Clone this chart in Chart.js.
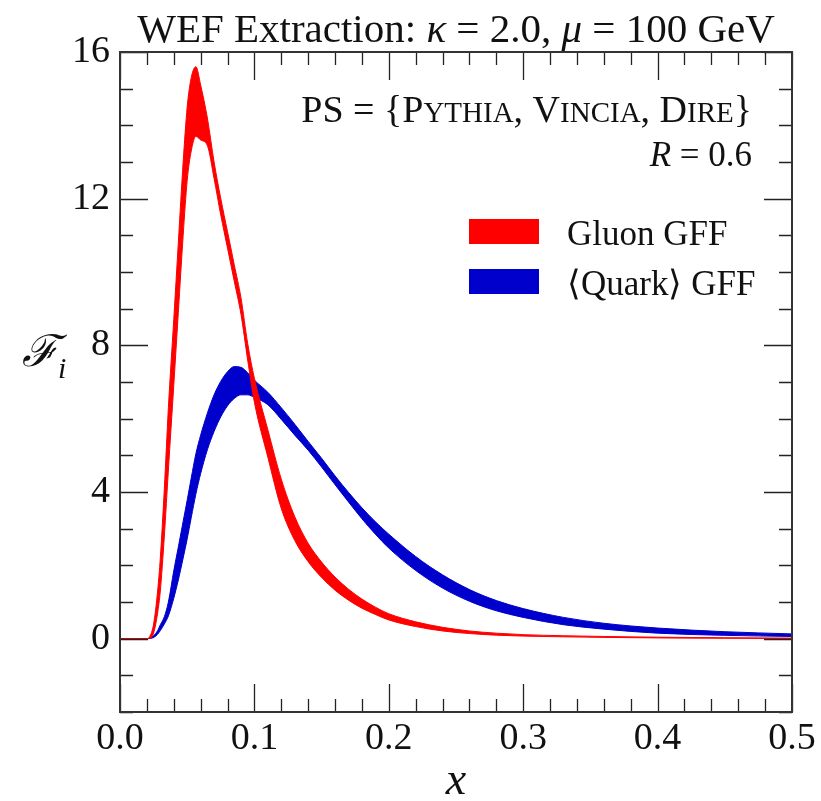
<!DOCTYPE html>
<html><head><meta charset="utf-8">
<script src="https://cdn.jsdelivr.net/npm/chart.js@4.4.1/dist/chart.umd.min.js"></script>
<style>html,body{margin:0;padding:0;background:#fff}</style>
</head><body>
<canvas id="c" width="821" height="801"></canvas>
<script>
// ---------- data ----------
const xValues = [0, 0.01, 0.02, 0.022, 0.025, 0.028, 0.03, 0.033, 0.036, 0.04, 0.0434, 0.047, 0.05, 0.053, 0.0565, 0.06, 0.065, 0.07, 0.075, 0.08, 0.085, 0.09, 0.095, 0.1, 0.11, 0.12, 0.13, 0.14, 0.15, 0.16, 0.17, 0.18, 0.19, 0.2, 0.22, 0.24, 0.26, 0.28, 0.3, 0.33, 0.36, 0.4, 0.45, 0.5];
const gluonUpper = [0, 0, 0, 0.05, 0.4, 1.3, 2.2, 4.1, 6.3, 8.7, 10.8, 13.0, 14.5, 15.3, 15.6, 15.1, 14.2, 13.0, 12.0, 11.1, 10.2, 9.3, 8.05, 7.1, 5.7, 4.35, 3.33, 2.6, 2.09, 1.68, 1.35, 1.08, 0.86, 0.68, 0.46, 0.31, 0.21, 0.15, 0.11, 0.08, 0.06, 0.04, 0.025, 0.015];
const gluonLower = [0, 0, 0, 0.01, 0.15, 0.7, 1.3, 2.8, 4.6, 6.9, 8.9, 11.0, 12.5, 13.3, 13.7, 13.6, 13.45, 12.55, 11.55, 10.65, 9.75, 8.85, 7.6, 6.45, 4.95, 3.55, 2.68, 2.1, 1.67, 1.32, 1.05, 0.83, 0.66, 0.51, 0.33, 0.21, 0.14, 0.095, 0.07, 0.05, 0.035, 0.02, 0.012, 0.005];
const quarkUpper = [0, 0, 0, 0.01, 0.08, 0.22, 0.38, 0.6, 1.0, 1.85, 2.5, 3.2, 3.78, 4.38, 5.05, 5.55, 6.15, 6.65, 7.02, 7.28, 7.42, 7.4, 7.25, 7.05, 6.72, 6.3, 5.85, 5.38, 4.92, 4.44, 3.99, 3.57, 3.19, 2.85, 2.24, 1.74, 1.34, 1.04, 0.82, 0.58, 0.42, 0.29, 0.19, 0.13];
const quarkLower = [0, 0, 0, 0.005, 0.03, 0.12, 0.22, 0.4, 0.62, 1.1, 1.6, 2.2, 2.72, 3.3, 3.95, 4.5, 5.15, 5.65, 6.05, 6.35, 6.55, 6.65, 6.65, 6.58, 6.38, 5.98, 5.55, 5.14, 4.68, 4.2, 3.73, 3.27, 2.85, 2.47, 1.86, 1.38, 1.02, 0.76, 0.58, 0.38, 0.26, 0.15, 0.09, 0.06];
const xTickValues = [0, 0.1, 0.2, 0.3, 0.4, 0.5];
const yTickValues = [0, 4, 8, 12, 16];
const seriesNames = ['Gluon GFF', '\u27E8Quark\u27E9 GFF'];
const seriesColors = ['#ff0000', '#0000cc'];

// ---------- rendering ----------
const SERIF = '"Liberation Serif", "Times New Roman", serif';
const pts = ys => xValues.map((x, i) => ({x: x, y: ys[i]}));

function runsWidth(ctx, runs) {
  let w = 0;
  for (const r of runs) { ctx.font = r[1]; w += ctx.measureText(r[0]).width; }
  return w;
}
function drawRuns(ctx, runs, x, y, align) {
  const w = runsWidth(ctx, runs);
  let cx = align === 'center' ? x - w / 2 : align === 'right' ? x - w : x;
  ctx.textBaseline = 'alphabetic';
  ctx.textAlign = 'left';
  for (const r of runs) {
    ctx.font = r[1];
    ctx.fillText(r[0], cx, y + (r[2] || 0));
    cx += ctx.measureText(r[0]).width;
  }
}

const decor = {
  id: 'decor',
  afterDraw(chart) {
    const ctx = chart.ctx, a = chart.chartArea;
    const xs = chart.scales.x, ys = chart.scales.y;
    ctx.save();
    ctx.strokeStyle = '#222';
    ctx.lineWidth = 1.3;
    ctx.beginPath();
    for (let k = 0; k <= 25; k++) {
      const px = Math.round(xs.getPixelForValue(k * 0.02)) + 0.5;
      const L = (k % 5 === 0) ? 28 : 13;
      ctx.moveTo(px, a.bottom); ctx.lineTo(px, a.bottom - L);
      ctx.moveTo(px, a.top); ctx.lineTo(px, a.top + L);
    }
    for (let v = -2; v <= 16; v++) {
      const py = Math.round(ys.getPixelForValue(v)) + 0.5;
      const L = (v % 4 === 0) ? 28 : 13;
      ctx.moveTo(a.left, py); ctx.lineTo(a.left + L, py);
      ctx.moveTo(a.right, py); ctx.lineTo(a.right - L, py);
    }
    ctx.stroke();
    ctx.lineWidth = 2;
    ctx.strokeStyle = '#333';
    ctx.strokeRect(a.left, a.top, a.right - a.left, a.bottom - a.top);

    ctx.fillStyle = '#111';
    const up = '41px ' + SERIF, it = 'italic 41px ' + SERIF;
    drawRuns(ctx, [['WEF Extraction: ', up], ['\u03BA', it], [' = 2.0, ', up], ['\u03BC', it], [' = 100 GeV', up]], (a.left + a.right) / 2, 42, 'center');

    const f = '35px ' + SERIF;
    const pf = '38px ' + SERIF, sc = '29px ' + SERIF;
    drawRuns(ctx, [['PS = {', pf], ['P', pf], ['YTHIA', sc], [', ', pf], ['V', pf], ['INCIA', sc], [', ', pf], ['D', pf], ['IRE', sc], ['}', pf]], 752, 122, 'right');
    drawRuns(ctx, [['R', 'italic 35px ' + SERIF], [' = 0.6', f]], 752, 166, 'right');

    // legend
    const ly = [219, 269];
    for (let i = 0; i < 2; i++) {
      ctx.fillStyle = seriesColors[i];
      ctx.fillRect(469, ly[i], 70, 25);
      ctx.fillStyle = '#111';
      drawRuns(ctx, [[seriesNames[i], f]], 567, ly[i] + 26, 'left');
    }

    // axis titles
    drawRuns(ctx, [['\u2131', 'italic 44px "DejaVu Serif", ' + SERIF], ['i', 'italic 30px ' + SERIF, 12]], 22, 366, 'left');
    drawRuns(ctx, [['x', 'italic 46px ' + SERIF]], (a.left + a.right) / 2, 794, 'center');
    ctx.restore();
  }
};

const band = (ys, color, fill) => ({
  data: pts(ys), borderColor: color, backgroundColor: color, borderWidth: 1,
  pointRadius: 0, fill: fill, cubicInterpolationMode: 'monotone'
});

new Chart(document.getElementById('c'), {
  type: 'line',
  data: {
    datasets: [
      band(gluonUpper, seriesColors[0], '+1'),
      band(gluonLower, seriesColors[0], false),
      band(quarkUpper, seriesColors[1], '+1'),
      band(quarkLower, seriesColors[1], false)
    ]
  },
  options: {
    responsive: false, animation: false, devicePixelRatio: 1,
    layout: {padding: {top: 52, right: 29, left: 0, bottom: 0}},
    plugins: {legend: {display: false}, tooltip: {enabled: false}, title: {display: false}},
    scales: {
      x: {
        type: 'linear', min: 0, max: 0.5,
        afterFit: s => { s.height = 89; },
        afterBuildTicks: s => { s.ticks = xTickValues.map(v => ({value: v})); },
        grid: {display: false, drawTicks: false},
        border: {display: false},
        ticks: {color: '#111', font: {family: SERIF, size: 38}, padding: 4, maxRotation: 0,
                callback: v => v.toFixed(1)}
      },
      y: {
        type: 'linear', min: -2, max: 16,
        afterFit: s => { s.width = 120; },
        afterBuildTicks: s => { s.ticks = yTickValues.map(v => ({value: v})); },
        grid: {display: false, drawTicks: false},
        border: {display: false},
        ticks: {color: '#111', font: {family: SERIF, size: 38}, padding: 10,
                callback: v => String(v)}
      }
    }
  },
  plugins: [decor]
});
</script>
</body></html>
